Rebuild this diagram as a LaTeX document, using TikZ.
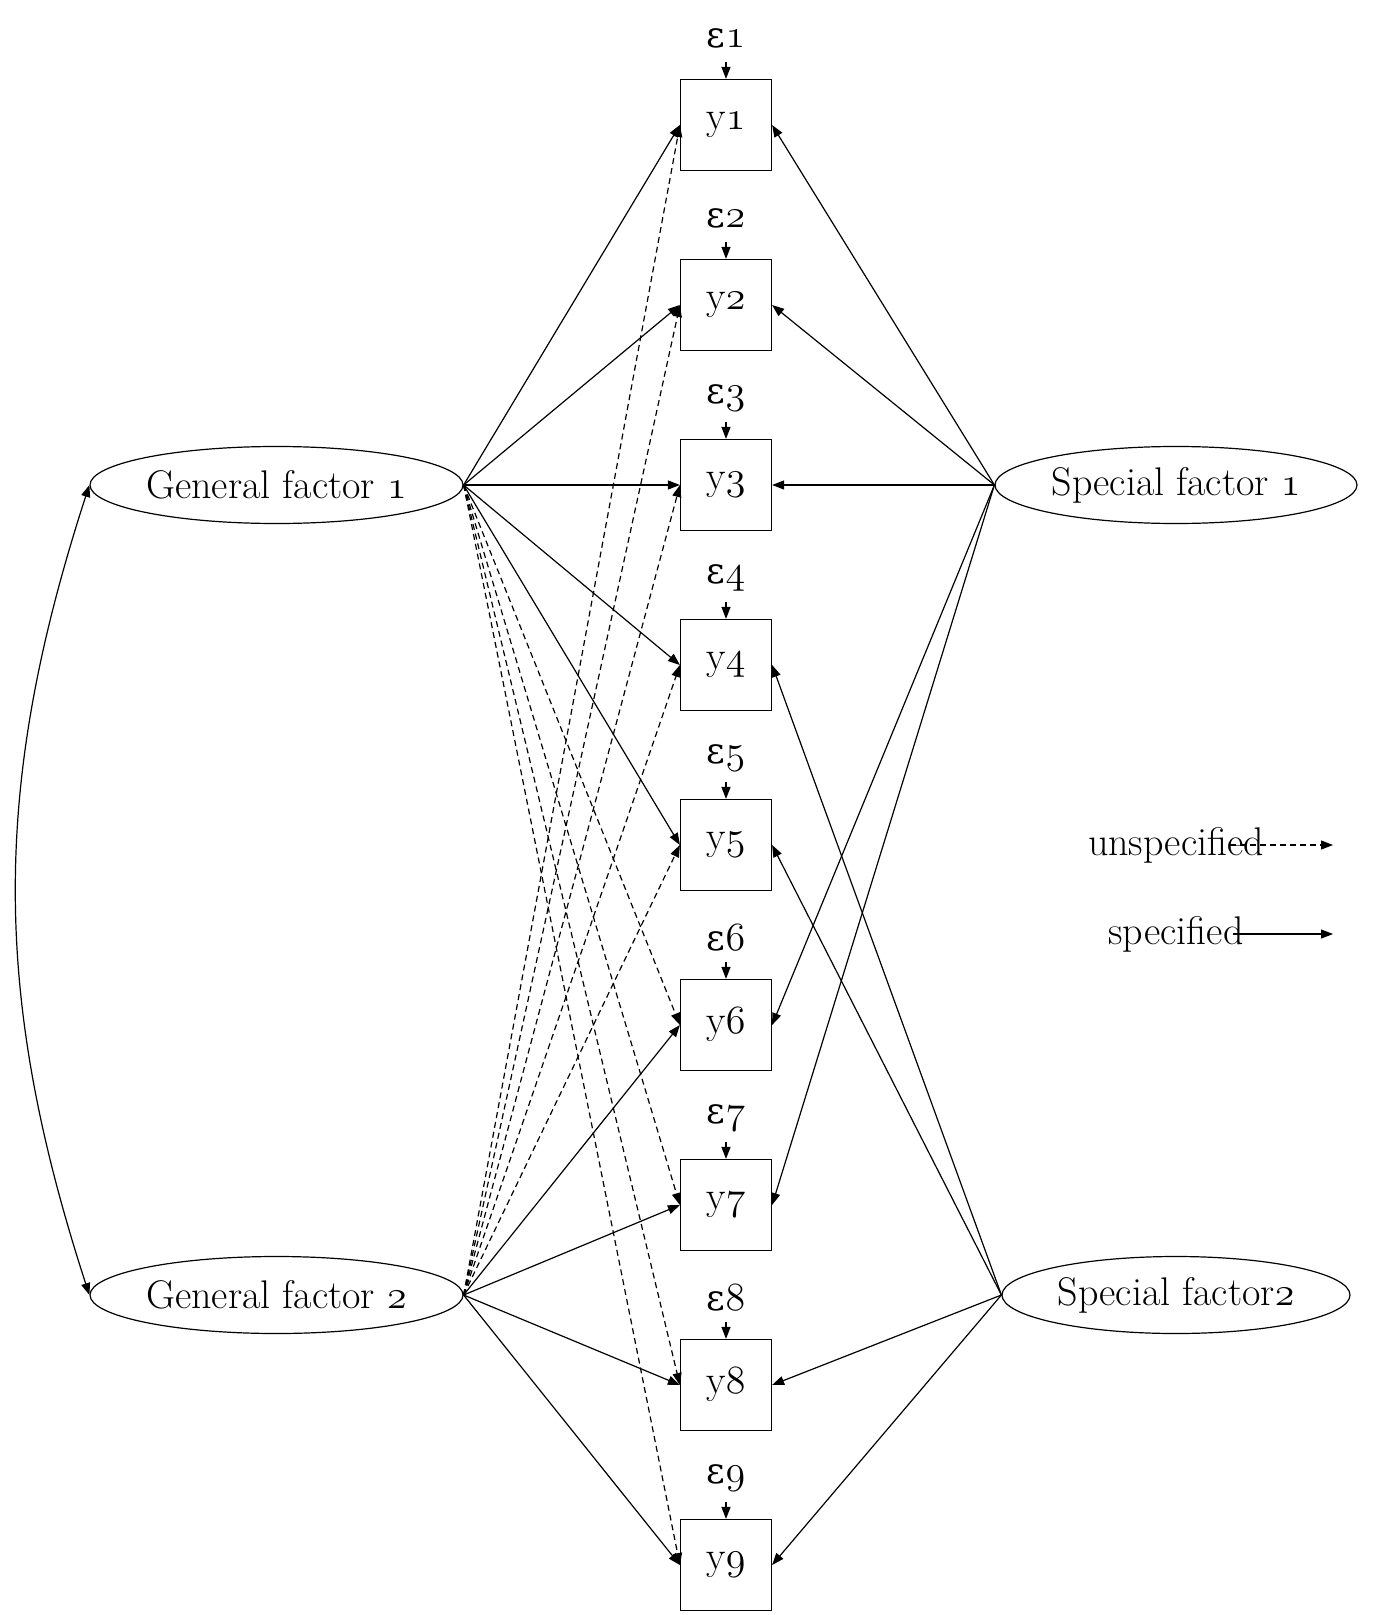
\RequirePackage{fix-cm}
\documentclass[tikz,border=0pt]{standalone}
\usepackage{fontspec}
\newfontfamily\grk{DejaVu Serif}
\newcommand{\osnum}[1]{{\usefont{OML}{cmm}{m}{it}#1}}
\usetikzlibrary{shapes.geometric, arrows.meta}

\begin{document}
\begin{tikzpicture}
    [
        x=0.5pt, y=-0.5pt, line width=0.6pt,
        font=\fontsize{20}{24}\selectfont,
        >={Triangle[length=6pt,width=4.5pt]},
        box/.style = {draw, shape=rectangle, minimum height=45.5pt, minimum width=45.5pt, inner sep=0pt},
        latent/.style = {draw, shape=ellipse, minimum height=38.5pt, inner sep=0pt},
        err/.style = {shape=rectangle, minimum height=23pt, inner sep=0pt},
        load/.style = {->},
        free/.style = {->, dash pattern=on 3pt off 2pt},
    ]

    \useasboundingbox (0,0) rectangle (1384,1615);

    \node[box] (y1) at (726,125)  {y\osnum{1}};
    \node[box] (y2) at (726,305)  {y\osnum{2}};
    \node[box] (y3) at (726,485)  {y\osnum{3}};
    \node[box] (y4) at (726,665)  {y\osnum{4}};
    \node[box] (y5) at (726,845)  {y\osnum{5}};
    \node[box] (y6) at (726,1025) {y\osnum{6}};
    \node[box] (y7) at (726,1205) {y\osnum{7}};
    \node[box] (y8) at (726,1385) {y\osnum{8}};
    \node[box] (y9) at (726,1565) {y\osnum{9}};

    \node[err] (e1) at (726,38)   {{\grk\fontsize{18}{22}\selectfont ε}\osnum{1}};
    \node[err] (e2) at (726,218)  {{\grk\fontsize{18}{22}\selectfont ε}\osnum{2}};
    \node[err] (e3) at (726,398)  {{\grk\fontsize{18}{22}\selectfont ε}\osnum{3}};
    \node[err] (e4) at (726,578)  {{\grk\fontsize{18}{22}\selectfont ε}\osnum{4}};
    \node[err] (e5) at (726,758)  {{\grk\fontsize{18}{22}\selectfont ε}\osnum{5}};
    \node[err] (e6) at (726,938)  {{\grk\fontsize{18}{22}\selectfont ε}\osnum{6}};
    \node[err] (e7) at (726,1118) {{\grk\fontsize{18}{22}\selectfont ε}\osnum{7}};
    \node[err] (e8) at (726,1298) {{\grk\fontsize{18}{22}\selectfont ε}\osnum{8}};
    \node[err] (e9) at (726,1478) {{\grk\fontsize{18}{22}\selectfont ε}\osnum{9}};

    \node[latent, minimum width=186.5pt] (g1) at (276.5,485)  {General factor \osnum{1}};
    \node[latent, minimum width=186.5pt] (g2) at (276.5,1295) {General factor \osnum{2}};
    \node[latent, minimum width=181pt]   (s1) at (1176,485)   {Special factor \osnum{1}};
    \node[latent, minimum width=174pt]   (s2) at (1176,1295)  {Special factor\osnum{2}};

    % legend
    \node (unspec) at (1176,845) {unspecified};
    \node (spec)   at (1176,934) {specified};
    \coordinate (unspec0) at (1230,845);
    \coordinate (unspec1) at (1333,845);
    \coordinate (spec0)   at (1233,934);
    \coordinate (spec1)   at (1333,934);
    \draw[free] (unspec0) -- (unspec1);
    \draw[load] (spec0) -- (spec1);

    % error terms
    \foreach \i in {1,...,9}
        \draw[load] (e\i.south) -- (y\i.north);

    % general factors
    \foreach \i in {1,...,5} {
        \draw[load] (g1.east) -- (y\i.west);
        \draw[free] (g2.east) -- (y\i.west);
    }
    \foreach \i in {6,...,9} {
        \draw[free] (g1.east) -- (y\i.west);
        \draw[load] (g2.east) -- (y\i.west);
    }

    % special factors
    \foreach \i in {1,2,3,6,7}
        \draw[load] (s1.west) -- (y\i.east);
    \foreach \i in {4,5,8,9}
        \draw[load] (s2.west) -- (y\i.east);

    \draw[<->] (g1.west) to[bend right=18] (g2.west);
\end{tikzpicture}
\end{document}
